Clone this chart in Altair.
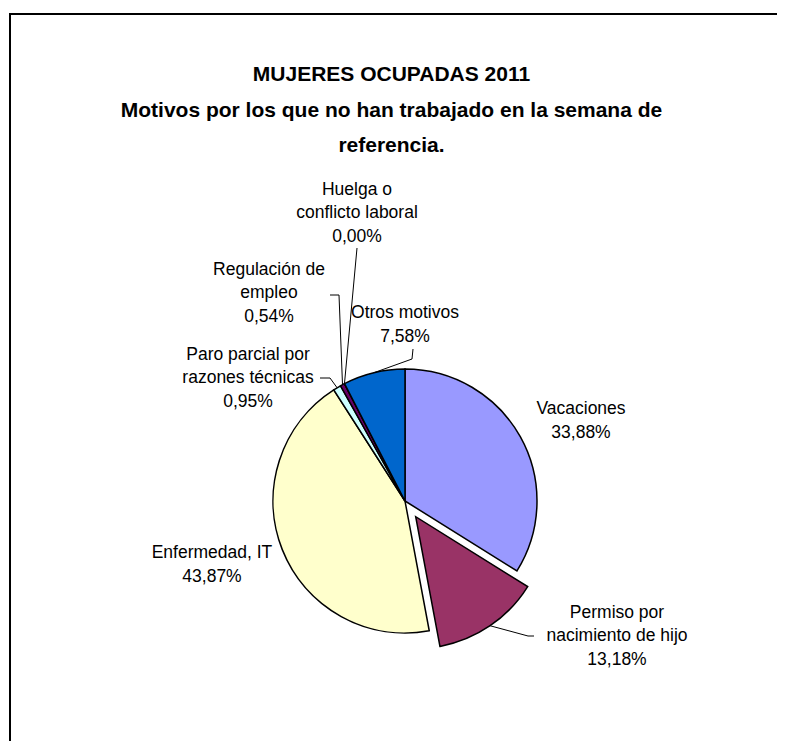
import math
import altair as alt
import pandas as pd

# ---- data ----
categorias = [
    "Vacaciones",
    "Permiso por nacimiento de hijo",
    "Enfermedad, IT",
    "Paro parcial por razones técnicas",
    "Regulación de empleo",
    "Huelga o conflicto laboral",
    "Otros motivos",
]
porcentajes = [33.88, 13.18, 43.87, 0.95, 0.54, 0.00, 7.58]
lineas_etiqueta = [
    ["Vacaciones"],
    ["Permiso por", "nacimiento de hijo"],
    ["Enfermedad, IT"],
    ["Paro parcial por", "razones técnicas"],
    ["Regulación de", "empleo"],
    ["Huelga o", "conflicto laboral"],
    ["Otros motivos"],
]
colores = ["#9999FF", "#993366", "#FFFFCC", "#CCFFFF", "#660066", "#FF8080", "#0066CC"]
separado = [False, True, False, False, False, False, False]

titulo = [
    "MUJERES OCUPADAS 2011",
    "Motivos por los que no han trabajado en la semana de",
    "referencia.",
]

# ---- layout ----
W, H = 769, 733
CX, CY, R = 397, 493, 132
EXPLODE = (10.7, 15.7)
LH = 23.5
# label block centres relative to pie centre
label_off = {
    "Vacaciones": (176, -80),
    "Permiso por nacimiento de hijo": (212, 135),
    "Enfermedad, IT": (-193, 64),
    "Paro parcial por razones técnicas": (-157, -123),
    "Regulación de empleo": (-136, -208),
    "Huelga o conflicto laboral": (-48, -288),
    "Otros motivos": (0, -176),
}
# leader elbows / ends relative to pie centre
leader_pts = {
    "Permiso por nacimiento de hijo": [(123, 135), (129, 135)],
    "Otros motivos": [(7, -142), (8, -152)],
    "Paro parcial por razones técnicas": [(-75, -123), (-85, -123)],
    "Regulación de empleo": [(-66, -206), (-75, -206)],
    "Huelga o conflicto laboral": [(-48, -253)],
}


def fmt(v):
    return f"{v:.2f}".replace(".", ",") + "%"


rows = []
for i, (c, v) in enumerate(zip(categorias, porcentajes)):
    dx, dy = label_off[c]
    lines = lineas_etiqueta[i] + [fmt(v)]
    rows.append({
        "cat": c, "value": v, "order": i, "exploded": separado[i],
        "label": "\n".join(lines), "nlines": len(lines),
        "ldx": dx, "ldy": dy,
    })
df = pd.DataFrame(rows)

# leader lines: start at slice edge (mid angle), then elbows
lrows = []
cum = 0.0
for i, (c, v) in enumerate(zip(categorias, porcentajes)):
    mid = (cum + v / 2) / 100 * 2 * math.pi
    cum += v
    if c not in leader_pts:
        continue
    ox, oy = EXPLODE if separado[i] else (0, 0)
    pts = [(R * math.sin(mid) + ox, -R * math.cos(mid) + oy)] + leader_pts[c]
    for k, (px, py) in enumerate(pts):
        lrows.append({"cat": c, "seq": k, "px": px, "py": py})
ldf = pd.DataFrame(lrows)

theta_scale = alt.Scale(domain=[0, 100], range=[0, 2 * math.pi])
color_scale = alt.Scale(domain=categorias, range=colores)

base = alt.Chart(df).transform_window(
    cum="sum(value)", sort=[alt.SortField("order")], frame=[None, 0]
).transform_calculate(start="datum.cum - datum.value")

enc = dict(
    x=alt.value(CX),
    y=alt.value(CY),
    theta=alt.Theta("start:Q", scale=theta_scale),
    theta2="cum:Q",
    color=alt.Color("cat:N", scale=color_scale, legend=None),
)

pie_main = base.transform_filter("!datum.exploded").mark_arc(
    radius=R, stroke="black", strokeWidth=1.5
).encode(**enc)

pie_exp = base.transform_filter("datum.exploded").mark_arc(
    radius=R, stroke="black", strokeWidth=1.5, xOffset=EXPLODE[0], yOffset=EXPLODE[1]
).encode(**enc)

labels = alt.Chart(df).transform_calculate(
    lx=f"{CX} + datum.ldx",
    ly=f"{CY} + datum.ldy - (datum.nlines - 1) * {LH} / 2",
).mark_text(
    font="Liberation Sans", fontSize=17.5, color="black", align="center",
    baseline="middle", lineBreak="\n", lineHeight=LH
).encode(
    x=alt.X("lx:Q", scale=None),
    y=alt.Y("ly:Q", scale=None),
    text="label:N",
)

leaders = alt.Chart(ldf).transform_calculate(
    lx=f"{CX} + datum.px", ly=f"{CY} + datum.py"
).mark_line(color="black", strokeWidth=1).encode(
    x=alt.X("lx:Q", scale=None),
    y=alt.Y("ly:Q", scale=None),
    detail="cat:N",
    order="seq:Q",
)

one = pd.DataFrame({"a": [0]})
title = alt.Chart(one).mark_text(
    text=titulo, font="Liberation Sans", fontSize=21, fontWeight="bold",
    color="black", align="center", baseline="middle", lineHeight=35.5
).encode(x=alt.value(383.5), y=alt.value(67))

border_top = alt.Chart(one).mark_rule(color="black", strokeWidth=2).encode(
    x=alt.value(1), x2=alt.value(W), y=alt.value(6)
)
border_left = alt.Chart(one).mark_rule(color="black", strokeWidth=2).encode(
    x=alt.value(2), y=alt.value(5), y2=alt.value(H)
)

chart = alt.layer(
    border_top, border_left, title, pie_main, pie_exp, leaders, labels
).properties(
    width=W, height=H, autosize="none", padding=0
).configure_view(strokeWidth=0)

chart.save("out.html", embed_options={"renderer": "svg", "actions": False})
